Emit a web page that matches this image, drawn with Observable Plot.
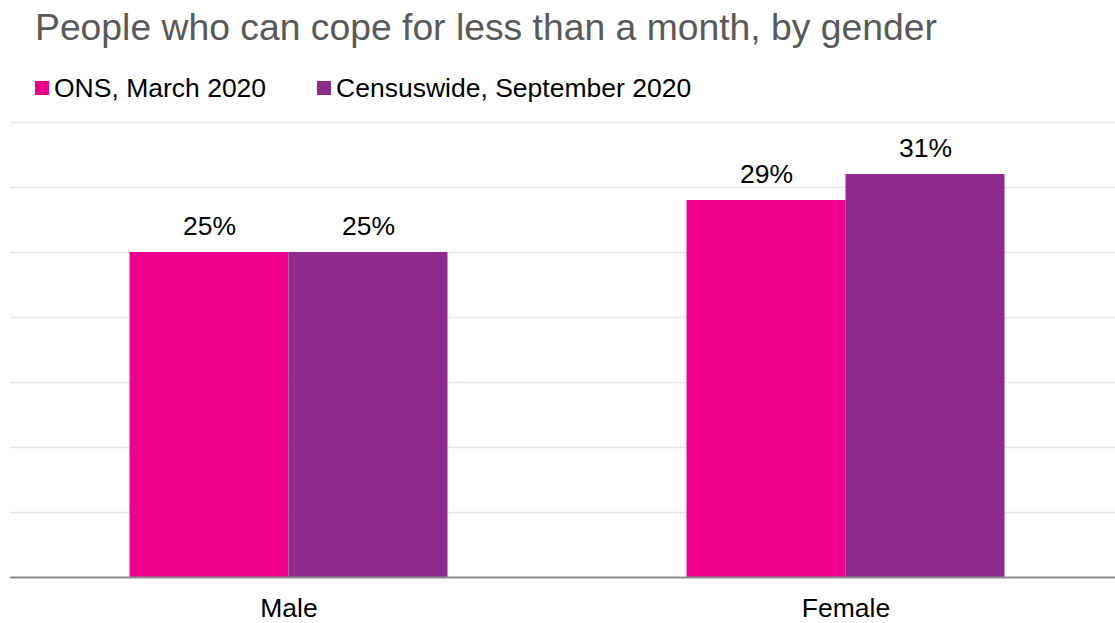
<!DOCTYPE html>
<html>
<head>
<meta charset="utf-8">
<script src="https://cdn.jsdelivr.net/npm/d3@7"></script>
<script src="https://cdn.jsdelivr.net/npm/@observablehq/plot@0.6"></script>
<style>
  html, body { margin: 0; padding: 0; background: #fff; overflow: hidden; width: 1115px; height: 623px; }
  body { position: relative; font-family: "Liberation Sans", Arial, sans-serif; }
  #title { position: absolute; left: 35px; top: 9px; font-size: 37.3px; line-height: 37px; color: #595959; white-space: nowrap; }
  #legend { position: absolute; left: 35px; top: 75px; font-size: 26.5px; line-height: 26px; color: #000; white-space: nowrap; display: flex; }
  .item { display: flex; align-items: center; margin-right: 51px; }
  .sw { width: 14px; height: 14px; margin-right: 5px; display: inline-block; }
  #chart { position: absolute; left: 0; top: 110px; width: 1124px; }
  #chart svg { max-width: none !important; }
</style>
</head>
<body>
<div id="title">People who can cope for less than a month, by gender</div>
<div id="legend"></div>
<div id="chart"></div>
<script>
const genders = ["Male", "Female"];
const seriesNames = ["ONS, March 2020", "Censuswide, September 2020"];
const onsValues = [25, 29];
const censuswideValues = [25, 31];
const seriesColors = ["#EC008C", "#8F2B8C"];
const gridTicks = [5, 10, 15, 20, 25, 30, 35];

const data = genders.flatMap((g, i) => [
  {gender: g, series: seriesNames[0], value: onsValues[i]},
  {gender: g, series: seriesNames[1], value: censuswideValues[i]}
]);

const legend = document.getElementById("legend");
seriesNames.forEach((s, i) => {
  const item = document.createElement("div");
  item.className = "item";
  const sw = document.createElement("span");
  sw.className = "sw";
  sw.style.background = seriesColors[i];
  item.appendChild(sw);
  item.appendChild(document.createTextNode(s));
  legend.appendChild(item);
});

const chart = Plot.plot({
  width: 1124,
  height: 520,
  marginLeft: 10,
  marginRight: 0,
  marginTop: 12,
  marginBottom: 53,
  style: {fontFamily: "'Liberation Sans', Arial, sans-serif", fontSize: "26.5px", color: "#000", background: "transparent", maxWidth: "none"},
  fx: {domain: genders, paddingInner: 0, paddingOuter: 0, round: false, label: null, axis: "bottom", tickSize: 0, tickPadding: 21},
  x: {domain: seriesNames, paddingInner: 0, paddingOuter: 0.7516, round: false, axis: null},
  y: {domain: [0, 35], axis: null},
  color: {domain: seriesNames, range: seriesColors},
  marks: [
    Plot.ruleY(gridTicks, {stroke: "#e6e6e6", strokeWidth: 1.5}),
    Plot.barY(data, {fx: "gender", x: "series", y: "value", fill: "series"}),
    Plot.ruleY([0], {stroke: "#8c8c8c", strokeWidth: 2}),
    Plot.text(data, {fx: "gender", x: "series", y: "value", text: d => d.value + "%", dy: -26, fontSize: 26.5, fill: "#000"})
  ]
});
document.getElementById("chart").appendChild(chart);
</script>
</body>
</html>
